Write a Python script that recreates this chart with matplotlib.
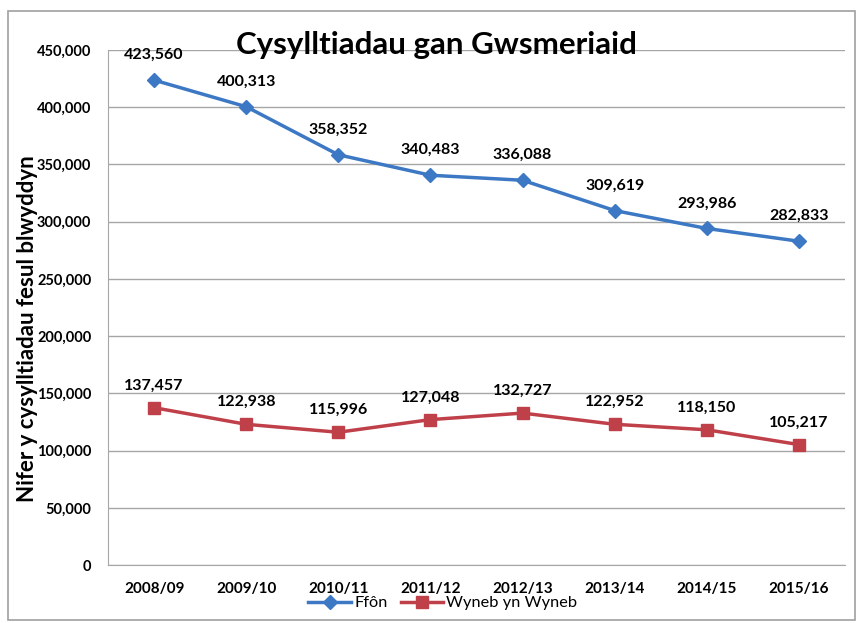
import matplotlib.pyplot as plt
from matplotlib.patches import Rectangle

years = ["2008/09", "2009/10", "2010/11", "2011/12", "2012/13", "2013/14", "2014/15", "2015/16"]
ffon = [423560, 400313, 358352, 340483, 336088, 309619, 293986, 282833]
wyneb = [137457, 122938, 115996, 127048, 132727, 122952, 118150, 105217]

plt.rcParams["font.family"] = ["Lato", "DejaVu Sans"]

fig = plt.figure(figsize=(8.6, 6.23), dpi=100)
fig.patches.append(Rectangle((0.009, 0.005), 0.985, 0.978, transform=fig.transFigure,
                             fill=False, edgecolor="#a0a0a0", linewidth=1.2))

ax = fig.add_axes([0.1256, 0.093, 0.857, 0.827])
x = list(range(len(years)))
ax.plot(x, ffon, color="#3c78c3", linewidth=2.5, marker="D", markersize=7, label="Ffôn")
ax.plot(x, wyneb, color="#c0404a", linewidth=2.5, marker="s", markersize=8, label="Wyneb yn Wyneb")

for xi, v in zip(x, ffon):
    ax.annotate(f"{v:,}", (xi, v), xytext=(0, 13), textcoords="offset points",
                ha="center", va="bottom", fontsize=11.5, fontweight="bold")
for xi, v in zip(x, wyneb):
    ax.annotate(f"{v:,}", (xi, v), xytext=(0, 11), textcoords="offset points",
                ha="center", va="bottom", fontsize=11.5, fontweight="bold")

ax.set_xlim(-0.5, len(years) - 0.5)
ax.set_ylim(0, 450000)
ax.set_yticks(range(0, 450001, 50000))
ax.set_yticklabels([f"{t:,}" for t in range(0, 450001, 50000)], fontsize=10.5, fontweight="bold")
ax.set_xticks(x)
ax.set_xticklabels(years, fontsize=11, fontweight="bold")
ax.tick_params(axis="both", length=0, pad=12)
ax.grid(axis="y", color="#a6a6a6", linewidth=1)
ax.set_axisbelow(True)
for side in ["top", "right"]:
    ax.spines[side].set_visible(False)
ax.spines["left"].set_color("#a6a6a6")
ax.spines["bottom"].set_color("#a6a6a6")

fig.text(0.032, 0.473, "Nifer y cysylltiadau fesul blwyddyn", rotation=90, ha="center", va="center",
         fontsize=16, fontweight="bold")
fig.text(0.508, 0.928, "Cysylltiadau gan Gwsmeriaid", ha="center", va="center",
         fontsize=22.5, fontweight="bold")

fig.legend(loc="center", bbox_to_anchor=(0.515, 0.032), ncol=2, frameon=False,
           fontsize=11.8, handlelength=2.6, columnspacing=0.8, handletextpad=0.2, borderaxespad=0)

fig.savefig("out.png", dpi=100)
